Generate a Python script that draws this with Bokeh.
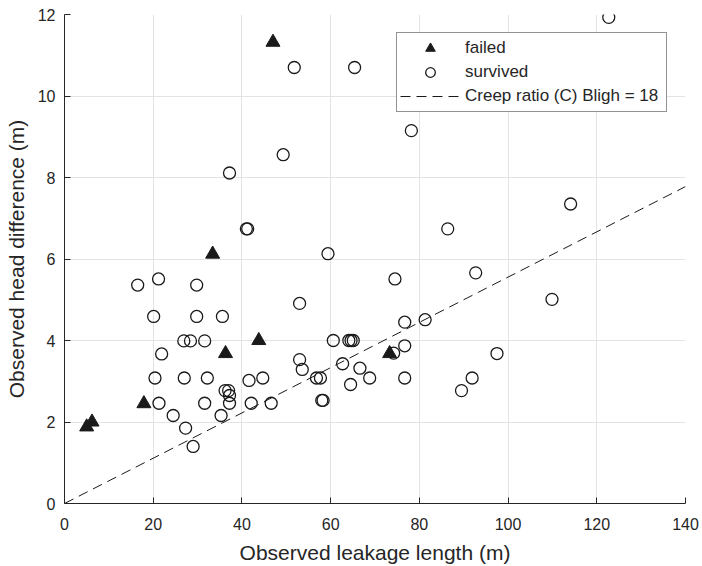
from bokeh.plotting import figure
from bokeh.models import Range1d, Legend, LegendItem
from bokeh.embed import file_html
from bokeh.resources import INLINE

# ---- data ----
failed_x = [5.0, 6.2, 17.9, 33.4, 36.3, 43.8, 47.0, 73.3]
failed_y = [1.88, 2.0, 2.45, 6.12, 3.68, 4.0, 11.32, 3.68]

survived_x = [16.5, 21.2, 29.8, 20.1, 29.8, 35.6, 26.9, 28.4, 31.6, 21.9,
              20.4, 27.0, 32.2, 36.2, 37.0, 37.2, 37.2, 21.3, 31.6, 24.5,
              35.3, 27.3, 29.0,
              74.5, 53.0, 76.7, 81.3, 60.6, 64.1, 64.6, 65.1, 74.2, 76.7,
              53.0, 53.6, 62.7, 66.6, 41.6, 44.7, 56.8, 57.7, 68.8, 76.7,
              64.5, 42.1, 46.6, 58.0, 58.3,
              92.7, 109.9, 97.5, 91.9, 89.5,
              51.8, 65.4, 49.3, 37.2, 41.0, 41.3, 59.4,
              122.7, 78.2, 114.1, 86.4]
survived_y = [5.36, 5.51, 5.36, 4.59, 4.59, 4.59, 3.99, 3.99, 3.99, 3.67,
              3.08, 3.08, 3.08, 2.77, 2.77, 2.65, 2.46, 2.46, 2.46, 2.16,
              2.16, 1.85, 1.40,
              5.51, 4.91, 4.45, 4.51, 4.0, 4.0, 4.0, 4.0, 3.69, 3.87,
              3.53, 3.29, 3.43, 3.32, 3.02, 3.08, 3.08, 3.08, 3.08, 3.08,
              2.92, 2.46, 2.46, 2.53, 2.53,
              5.66, 5.01, 3.68, 3.08, 2.77,
              10.70, 10.70, 8.56, 8.11, 6.74, 6.74, 6.13,
              11.93, 9.15, 7.35, 6.74]

creep_ratio = 18
line_x = [0, 140]
line_y = [v / creep_ratio for v in line_x]

x_ticks = [0, 20, 40, 60, 80, 100, 120, 140]
y_ticks = [0, 2, 4, 6, 8, 10, 12]

TEXT = "#262626"
FONT = "Liberation Sans"

p = figure(width=702, height=566, x_range=Range1d(0, 140), y_range=Range1d(0, 12),
           output_backend="svg", toolbar_location=None,
           min_border_left=64, min_border_right=17, min_border_top=14, min_border_bottom=63)
p.outline_line_color = None
p.background_fill_color = "white"
p.border_fill_color = "white"

r_line = p.line(line_x, line_y, line_color="#1a1a1a", line_width=1, line_dash="10 6")
r_surv = p.scatter(survived_x, survived_y, marker="circle", size=12,
                   fill_color=None, line_color="#1a1a1a", line_width=1.3)
r_fail = p.scatter(failed_x, failed_y, marker="triangle", size=14,
                   fill_color="#1a1a1a", line_color="#1a1a1a", line_width=1)

for ax in (p.xaxis[0], p.yaxis[0]):
    ax.axis_line_color = TEXT
    ax.axis_line_width = 1
    ax.major_tick_line_color = TEXT
    ax.major_tick_in = 6
    ax.major_tick_out = 0
    ax.minor_tick_line_color = None
    ax.major_label_text_font = FONT
    ax.major_label_text_font_size = "16px"
    ax.major_label_text_color = TEXT
    ax.axis_label_text_font = FONT
    ax.axis_label_text_font_size = "21px"
    ax.axis_label_text_font_style = "normal"
    ax.axis_label_text_color = TEXT

p.xaxis.ticker = x_ticks
p.yaxis.ticker = y_ticks
p.xaxis.axis_label = "Observed leakage length (m)"
p.yaxis.axis_label = "Observed head difference (m)"
p.xaxis.major_label_standoff = 14
p.xaxis.axis_label_standoff = 8
p.yaxis.major_label_standoff = 9
p.yaxis.axis_label_standoff = 7

p.grid.grid_line_color = "#e3e3e3"
p.grid.grid_line_width = 1

legend = Legend(items=[
    LegendItem(label="failed", renderers=[r_fail]),
    LegendItem(label="survived", renderers=[r_surv]),
    LegendItem(label="Creep ratio (C) Bligh = " + str(creep_ratio), renderers=[r_line]),
], location="top_right", margin=18)
legend.border_line_color = TEXT
legend.border_line_width = 1
legend.background_fill_color = "white"
legend.background_fill_alpha = 1
legend.label_text_font = FONT
legend.label_text_font_size = "17px"
legend.label_text_color = TEXT
legend.glyph_width = 60
legend.glyph_height = 24
legend.label_height = 24
legend.label_width = 198
legend.label_standoff = 5
legend.spacing = 0
legend.padding = 3
p.add_layout(legend)

open("out.html", "w").write(file_html(p, INLINE))
